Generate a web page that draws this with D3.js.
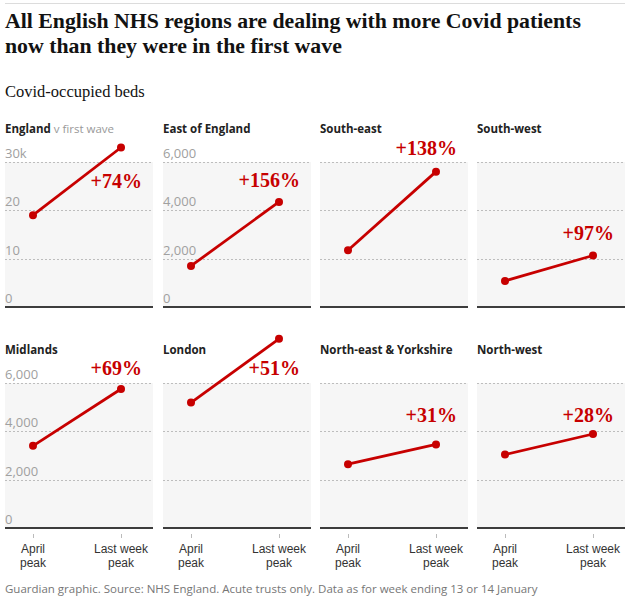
<!DOCTYPE html>
<html>
<head>
<meta charset="utf-8">
<script src="https://cdn.jsdelivr.net/npm/d3@7"></script>
<style>
  html, body { margin: 0; padding: 0; background: #fff; }
  svg { display: block; }
</style>
</head>
<body>
<svg id="chart" width="641" height="598"></svg>
<script>
// ---- data ----
const regions = ["England", "East of England", "South-east", "South-west",
                 "Midlands", "London", "North-east & Yorkshire", "North-west"];
const aprilPeak    = [19000, 1700, 2350, 1080, 3400, 5190, 2640, 3040];
const lastWeekPeak = [33000, 4350, 5600, 2130, 5750, 7830, 3460, 3890];
const changeLabels = ["+74%", "+156%", "+138%", "+97%", "+69%", "+51%", "+31%", "+28%"];
const periods = ["April peak", "Last week peak"];
const periodLines = [["April", "peak"], ["Last week", "peak"]];
const englandTicks = [0, 10000, 20000, 30000];
const englandTickLabels = ["0", "10", "20", "30k"];
const regionTicks = [0, 2000, 4000, 6000];
const regionTickLabels = ["0", "2,000", "4,000", "6,000"];

// ---- layout ----
const colX = [5, 163, 320, 477];
const panelW = 148;
const rows = [{ top: 162, base: 307, title: 133 }, { top: 383, base: 528, title: 354 }];
const showTicks = [true, true, false, false, true, false, false, false];
const labelDy = [26, 25, -7, 78, -8, -8, 39, 39]; // label baseline relative to panel top
const red = "#c70000";
const sans = "'Open Sans', 'DejaVu Sans', sans-serif";
const axisSans = "'Liberation Sans', Arial, sans-serif";
const serif = "'Liberation Serif', 'DejaVu Serif', serif";

const svg = d3.select("#chart");

// top rule
svg.append("line").attr("x1", 5).attr("x2", 625).attr("y1", 3.5).attr("y2", 3.5)
  .attr("stroke", "#dcdcdc").attr("stroke-width", 1);

// title
svg.append("text").attr("x", 5).attr("y", 28).attr("font-family", serif)
  .attr("font-weight", "bold").attr("font-size", 21.8).attr("fill", "#121212")
  .text("All English NHS regions are dealing with more Covid patients");
svg.append("text").attr("x", 5).attr("y", 53).attr("font-family", serif)
  .attr("font-weight", "bold").attr("font-size", 21.8).attr("fill", "#121212")
  .text("now than they were in the first wave");

svg.append("text").attr("x", 5).attr("y", 97).attr("font-family", serif)
  .attr("font-size", 16.5).attr("fill", "#121212").text("Covid-occupied beds");

regions.forEach((name, i) => {
  const row = rows[Math.floor(i / 4)];
  const x0 = colX[i % 4];
  const isEngland = i === 0;
  const ticks = isEngland ? englandTicks : regionTicks;
  const tickLabels = isEngland ? englandTickLabels : regionTickLabels;

  const y = d3.scaleLinear().domain([0, ticks[ticks.length - 1]]).range([row.base, row.top]);
  const x = d3.scalePoint().domain(periods).range([x0 + 28, x0 + 116]);

  const g = svg.append("g");

  // background
  g.append("rect").attr("x", x0).attr("y", row.top).attr("width", panelW)
    .attr("height", row.base - row.top).attr("fill", "#f6f6f6");

  // gridlines
  ticks.slice(1).forEach(t => {
    g.append("line").attr("x1", x0).attr("x2", x0 + panelW)
      .attr("y1", Math.round(y(t)) + 0.5).attr("y2", Math.round(y(t)) + 0.5)
      .attr("stroke", "#bdbdbd").attr("stroke-width", 1).attr("stroke-dasharray", "2,2");
  });

  // tick labels
  if (showTicks[i]) {
    ticks.forEach((t, k) => {
      g.append("text").attr("x", x0).attr("y", y(t) - 4)
        .attr("font-family", sans).attr("font-size", 13).attr("fill", "#a0a0a0")
        .text(tickLabels[k]);
    });
  }

  // baseline
  g.append("line").attr("x1", x0).attr("x2", x0 + panelW)
    .attr("y1", row.base).attr("y2", row.base)
    .attr("stroke", "#3d3d3d").attr("stroke-width", 2);

  // panel title
  const t = g.append("text").attr("x", x0).attr("y", row.title)
    .attr("font-family", sans).attr("font-size", 11.5).attr("fill", "#222");
  t.append("tspan").attr("font-weight", "bold").text(name);
  if (isEngland) t.append("tspan").attr("fill", "#999").attr("font-weight", "normal").text(" v first wave");

  // line + dots
  const vals = [aprilPeak[i], lastWeekPeak[i]];
  const pts = periods.map((p, k) => [x(p), y(vals[k])]);
  g.append("path").attr("d", d3.line()(pts)).attr("stroke", red)
    .attr("stroke-width", 2.8).attr("fill", "none");
  g.selectAll("circle.dot").data(pts).join("circle").attr("class", "dot")
    .attr("cx", d => d[0]).attr("cy", d => d[1]).attr("r", 4).attr("fill", red);

  // change label
  g.append("text").attr("x", x(periods[1]) + 21).attr("y", row.top + labelDy[i])
    .attr("text-anchor", "end").attr("font-family", serif).attr("font-weight", "bold")
    .attr("font-size", 20).attr("fill", red).text(changeLabels[i]);

  // bottom axis for bottom row
  if (i >= 4) {
    const axis = d3.axisBottom(x).tickSize(0).tickFormat(() => null);
    const ag = g.append("g").attr("transform", `translate(0,${row.base + 5})`).call(axis);
    ag.select(".domain").remove();
    ag.selectAll(".tick text").remove();
    ag.selectAll(".tick line").attr("y1", 1).attr("y2", 5).attr("stroke", "#bbb");
    periods.forEach((p, pi) => {
      periodLines[pi].forEach((w, k) => {
        g.append("text").attr("text-anchor", "middle").attr("x", x(p)).attr("y", 553 + k * 14)
          .attr("font-family", axisSans).attr("font-size", 12).attr("fill", "#333").text(w);
      });
    });
  }
});

// footer
svg.append("text").attr("x", 5).attr("y", 593).attr("font-family", sans)
  .attr("font-size", 11.5).attr("fill", "#767676")
  .text("Guardian graphic. Source: NHS England. Acute trusts only. Data as for week ending 13 or 14 January");
</script>
</body>
</html>
